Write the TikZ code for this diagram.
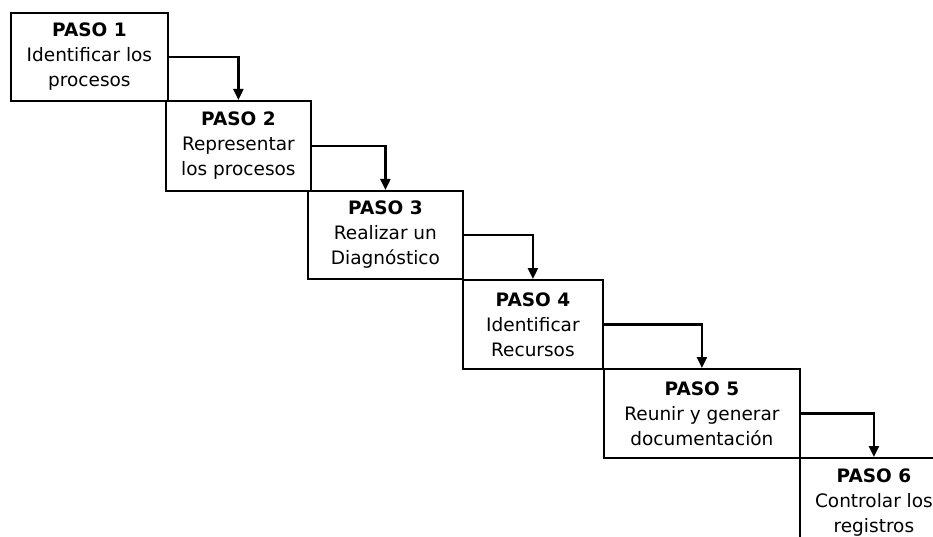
\documentclass[tikz,border=0pt]{standalone}
\usepackage{fontspec}
\setmainfont{DejaVu Sans}
\usetikzlibrary{arrows.meta}
\begin{document}
\begin{tikzpicture}[x=1pt,y=-1pt,
  stepbox/.style={draw, line width=1.8pt, anchor=north west, inner sep=0pt,
    align=center, font=\fontsize{18.5}{25}\selectfont},
  flow/.style={line width=2.2pt, -{Triangle[length=11pt,width=10pt]}}]
\useasboundingbox (0,0) rectangle (933,537);
\clip (0,0) rectangle (933,537);
\node[stepbox, minimum width=157pt, minimum height=88pt] (p1) at (10,12)
  {\textbf{PASO 1}\\Identificar los\\procesos};
\node[stepbox, minimum width=145pt, minimum height=90pt] (p2) at (165,100)
  {\textbf{PASO 2}\\Representar\\los procesos};
\node[stepbox, minimum width=155pt, minimum height=88pt] (p3) at (307,190)
  {\textbf{PASO 3}\\Realizar un\\Diagnóstico};
\node[stepbox, minimum width=140pt, minimum height=89pt] (p4) at (462,279)
  {\textbf{PASO 4}\\Identificar\\Recursos};
\node[stepbox, minimum width=196pt, minimum height=89pt] (p5) at (603,368)
  {\textbf{PASO 5}\\Reunir y generar\\documentación};
\node[stepbox, minimum width=148pt, minimum height=89pt] (p6) at (799,457)
  {\textbf{PASO 6}\\Controlar los\\registros};
\draw[flow] (p1.east) -| (p2.north);
\draw[flow] (p2.east) -| (p3.north);
\draw[flow] (p3.east) -| (p4.north);
\draw[flow] (p4.east) -| (p5.north);
\draw[flow] (p5.east) -| (p6.north);
\end{tikzpicture}
\end{document}
